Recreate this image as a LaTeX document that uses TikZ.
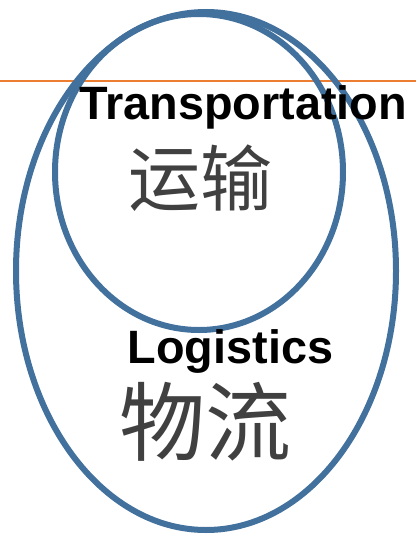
\documentclass[tikz,border=0pt]{standalone}
\usepackage{fontspec}
\setmainfont{Liberation Sans}
\newfontfamily\cjk{Noto Sans CJK SC}
\usetikzlibrary{shapes.geometric}
\definecolor{ringblue}{HTML}{41719C}
\definecolor{rule}{HTML}{ED7D31}
\definecolor{cjkgray}{HTML}{404040}
\begin{document}
\begin{tikzpicture}[x=1pt,y=-1pt,
  ring/.style={ellipse,draw=ringblue,line width=6pt,inner sep=0pt,outer sep=0pt},
  entitle/.style={font=\fontsize{46.8}{50}\selectfont\bfseries,text=black,inner sep=0pt,anchor=base},
  zhtitle/.style={text=cjkgray,inner sep=0pt}]
\useasboundingbox[fill=white] (0,0) rectangle (416,535);
\coordinate (rl) at (0,80.5);
\coordinate (rr) at (416,80.5);
\draw[rule,line width=2pt] (rl) -- (rr);
\node[ring,minimum width=380pt,minimum height=518pt] (logi) at (206,271) {};
\node[ring,minimum width=288pt,minimum height=316pt] (trans) at (199,172) {};
\node[entitle] (tEn) at (243,119) {Transportation};
\node[zhtitle,font=\cjk\fontsize{72}{76}\selectfont] (tZh) at (200,178) {运输};
\node[entitle] (lEn) at (230.5,363) {Logistics};
\node[zhtitle,font=\cjk\fontsize{86}{90}\selectfont] (lZh) at (205,422) {物流};
\end{tikzpicture}
\end{document}
